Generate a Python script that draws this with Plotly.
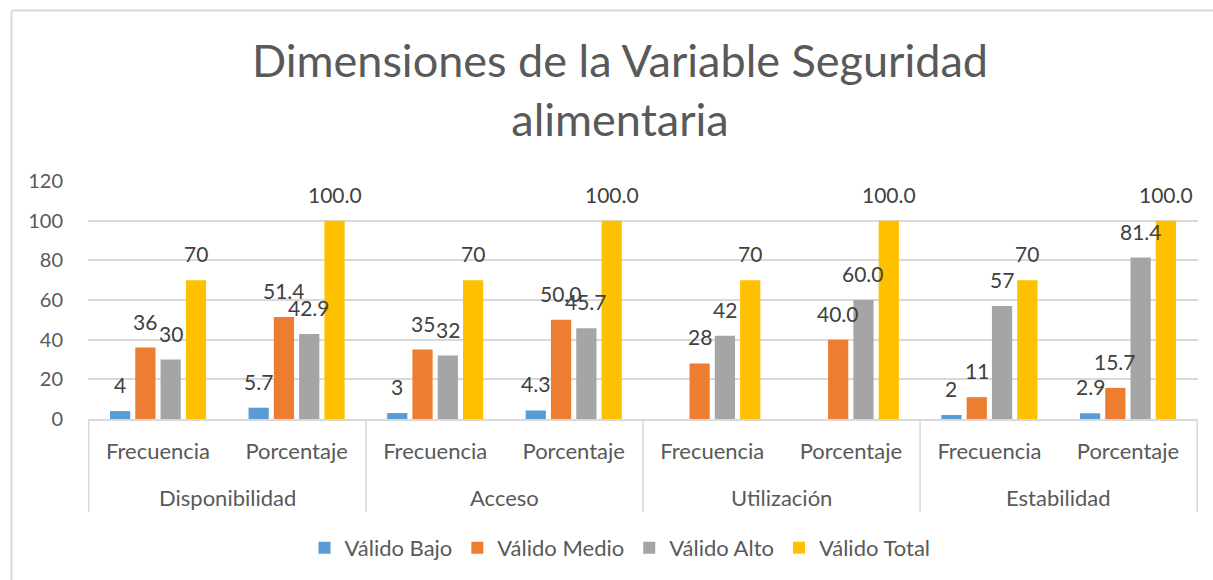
import plotly.graph_objects as go

dimensions = ["Disponibilidad", "Disponibilidad", "Acceso", "Acceso",
              "Utilización", "Utilización", "Estabilidad", "Estabilidad"]
measures = ["Frecuencia", "Porcentaje"] * 4

valido_bajo = [4, 5.7, 3, 4.3, None, None, 2, 2.9]
valido_medio = [36, 51.4, 35, 50.0, 28, 40.0, 11, 15.7]
valido_alto = [30, 42.9, 32, 45.7, 42, 60.0, 57, 81.4]
valido_total = [70, 100.0, 70, 100.0, 70, 100.0, 70, 100.0]

series_names = ["Válido Bajo", "Válido Medio", "Válido Alto", "Válido Total"]
series_values = [valido_bajo, valido_medio, valido_alto, valido_total]
colors = ["#5B9BD5", "#ED7D31", "#A5A5A5", "#FFC000"]

y_ticks = [0, 20, 40, 60, 80, 100, 120]

FONT = "Lato"
TXT = "#595959"
GRID = "#D9D9D9"
BARGAP = 0.27
GROUPGAP = 0.2

# unique category keys, shown with the inner (measure) label
cat_keys = [f"{d} · {m}" for d, m in zip(dimensions, measures)]

fig = go.Figure()
for name, vals, col in zip(series_names, series_values, colors):
    fig.add_trace(go.Bar(
        x=cat_keys, y=vals, name=name,
        marker=dict(color=col, line=dict(width=0)),
    ))

# data labels, centered above each bar of the group
slot = (1 - BARGAP) / len(series_values)
annotations = []
for si, vals in enumerate(series_values):
    off = (si - (len(series_values) - 1) / 2) * slot
    for ci, v in enumerate(vals):
        if v is None:
            continue
        label = f"{v:.0f}" if measures[ci] == "Frecuencia" else f"{v:.1f}"
        annotations.append(dict(
            x=ci + off, y=v, xref="x", yref="y", text=label,
            showarrow=False, yanchor="bottom", xanchor="center", yshift=12,
            font=dict(family=FONT, size=21, color="#404040"),
        ))

# outer group labels and dividers
groups = []
for i, d in enumerate(dimensions):
    if not groups or groups[-1][0] != d:
        groups.append([d, i, i])
    else:
        groups[-1][2] = i

shapes = []
div_depth = -93 / 238
for d, i0, i1 in groups:
    annotations.append(dict(
        x=(i0 + i1) / 2, y=-78 / 238, xref="x", yref="paper", text=d,
        showarrow=False, yanchor="middle", xanchor="center",
        font=dict(family=FONT, size=22, color=TXT),
    ))
    shapes.append(dict(type="line", xref="x", yref="paper", x0=i0 - 0.5, x1=i0 - 0.5,
                       y0=0, y1=div_depth, line=dict(color=GRID, width=1.5)))
shapes.append(dict(type="line", xref="x", yref="paper", x0=len(cat_keys) - 0.5,
                   x1=len(cat_keys) - 0.5, y0=0, y1=div_depth, line=dict(color=GRID, width=1.5)))

# chart border (top and left edges visible)
b_left = (11.5 - 88) / 1110
b_top = (419 - 10.5) / 238
shapes += [
    dict(type="line", xref="paper", yref="paper", x0=b_left, x1=b_left, y0=-1.0, y1=b_top,
         line=dict(color=GRID, width=2)),
    dict(type="line", xref="paper", yref="paper", x0=b_left, x1=1.1, y0=b_top, y1=b_top,
         line=dict(color=GRID, width=2)),
]

fig.update_layout(
    width=1213, height=580,
    margin=dict(l=88, r=15, t=181, b=161),
    paper_bgcolor="white", plot_bgcolor="white",
    font=dict(family=FONT, size=20, color=TXT),
    title=dict(text="Dimensiones de la Variable Seguridad<br>alimentaria",
               x=620 / 1213, xanchor="center", xref="container",
               y=1 - 77 / 580, yanchor="top", yref="container",
               font=dict(family=FONT, size=45, color=TXT)),
    barmode="group", bargap=BARGAP, bargroupgap=GROUPGAP,
    xaxis=dict(type="category", tickvals=cat_keys, ticktext=measures,
               showline=True, linecolor=GRID, linewidth=1.5, ticks="",
               ticklabelstandoff=12, showgrid=False,
               tickfont=dict(family=FONT, size=22, color=TXT)),
    yaxis=dict(range=[0, 120], tickvals=y_ticks, showgrid=True, gridcolor=GRID, gridwidth=1.5,
               zeroline=False, showline=False, ticklabelstandoff=24,
               tickfont=dict(family=FONT, size=20, color=TXT)),
    legend=dict(orientation="h", xref="container", x=620 / 1213, xanchor="center",
                yref="container", y=1 - 548 / 580, yanchor="middle",
                font=dict(family=FONT, size=22, color=TXT), itemwidth=30),
    annotations=annotations,
    shapes=shapes,
)

fig.write_html("out.html", config={"displayModeBar": False},
               post_script="document.body.style.margin='0';")
